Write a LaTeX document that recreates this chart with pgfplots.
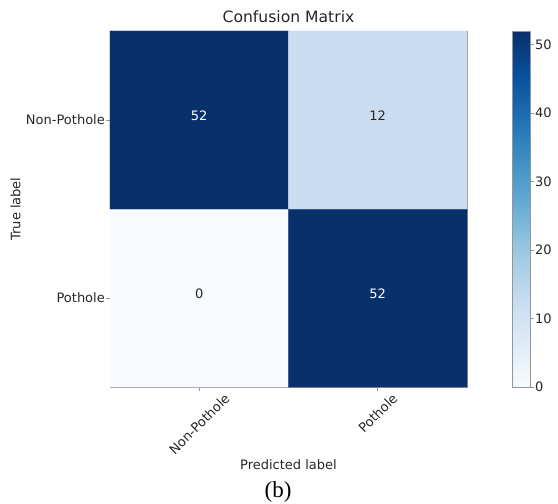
\documentclass[border=0pt]{standalone}
\usepackage{pgfplots}
\pgfplotsset{compat=1.18}
\usepackage{graphicx}
\usepackage{fontspec}
\setmainfont{DejaVu Sans}
\newfontfamily\capfont{Liberation Serif}
\definecolor{txt}{RGB}{38,38,38}
\definecolor{frame}{RGB}{150,150,150}
\newcommand{\fs}{\fontsize{13bp}{15bp}\selectfont}
\pgfplotsset{every tick label/.append style={font=\fs, text=txt}}
\begin{document}
\begin{tikzpicture}
\path[use as bounding box] (-110bp,-117bp) rectangle (448bp,387bp);
\begin{axis}[
  at={(0,0)}, anchor=south west,
  scale only axis, width=357bp, height=356bp,
  xmin=-0.5, xmax=1.5, ymin=-0.5, ymax=1.5,
  xtick={0,1}, ytick={0,1},
  xticklabels={\rotatebox{45}{\fs Non-Pothole},\rotatebox{45}{\fs Pothole}},
  yticklabels={\fs Pothole,\fs Non-Pothole},
  xtick pos=bottom, ytick pos=left,
  tick align=outside, major tick length=3.5bp,
  tick style={frame, line width=0.6bp},
  axis line style={frame, line width=0.8bp},
  xticklabel style={anchor=north, inner sep=2bp},
  yticklabel style={anchor=east, inner xsep=1.5bp},
  title={Confusion Matrix},
  title style={font=\fontsize{15.6bp}{18bp}\selectfont, text=txt, at={(axis description cs:0.5,1.007)}, anchor=base},
  xlabel={Predicted label},
  xlabel style={font=\fs, text=txt, at={(axis description cs:0.5,-0.2331)}, anchor=base},
  ylabel={True label},
  ylabel style={font=\fs, text=txt, at={(axis description cs:-0.2647,0.5)}, anchor=center},
  colormap={blues}{rgb255=(247,251,255) rgb255=(222,235,247) rgb255=(198,219,239) rgb255=(158,202,225) rgb255=(107,174,214) rgb255=(66,146,198) rgb255=(33,113,181) rgb255=(8,81,156) rgb255=(8,48,107)},
  point meta min=0, point meta max=52,
]
\addplot[matrix plot*, mesh/cols=2, point meta=explicit] coordinates {
  (0,0) [0] (1,0) [52]
  (0,1) [52] (1,1) [12]
};
\node[font=\fs, text=white, yshift=4.5bp] at (axis cs:0,1) {52};
\node[font=\fs, text=txt, yshift=4.5bp] at (axis cs:1,1) {12};
\node[font=\fs, text=txt, yshift=4.5bp] at (axis cs:0,0) {0};
\node[font=\fs, text=white, yshift=4.5bp] at (axis cs:1,0) {52};
\end{axis}
% colorbar
\begin{axis}[
  at={(402bp,0)}, anchor=south west,
  scale only axis, width=18bp, height=356bp,
  xmin=0, xmax=1, ymin=0, ymax=52,
  xtick=\empty, ytick={0,10,20,30,40,50},
  yticklabel pos=right, ytick pos=right,
  yticklabel={\fs\pgfmathprintnumber{\tick}},
  yticklabel style={inner xsep=1.5bp},
  /pgf/number format/assume math mode=true,
  tick align=outside, major tick length=3.5bp,
  tick style={frame, line width=0.6bp},
  axis line style={frame, line width=0.8bp},
  axis on top,
  colormap={blues}{rgb255=(247,251,255) rgb255=(222,235,247) rgb255=(198,219,239) rgb255=(158,202,225) rgb255=(107,174,214) rgb255=(66,146,198) rgb255=(33,113,181) rgb255=(8,81,156) rgb255=(8,48,107)},
  point meta min=0, point meta max=52,
]
\addplot[surf, shader=interp, mesh/cols=2, point meta=explicit] coordinates {
  (0,0) [0] (1,0) [0]
  (0,52) [52] (1,52) [52]
};
\end{axis}
\node[font=\capfont\fontsize{23bp}{26bp}\selectfont, anchor=base, text=black] at (168bp,-110bp) {(b)};
\end{tikzpicture}
\end{document}
